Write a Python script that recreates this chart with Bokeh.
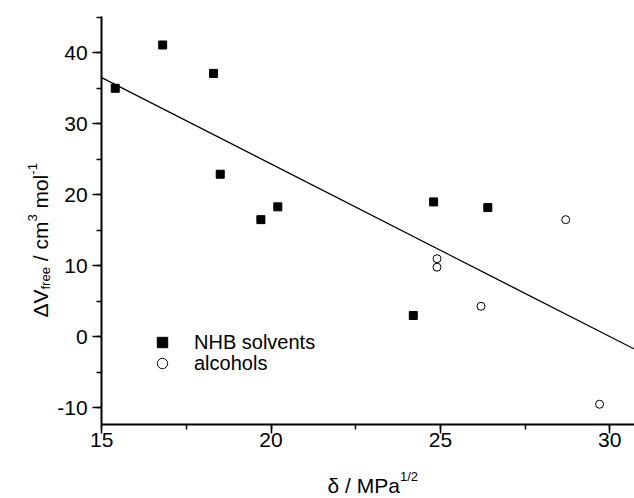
import numpy as np
from bokeh.plotting import figure
from bokeh.models import (Range1d, SingleIntervalTicker, Label, Legend, LegendItem,
                          LinearAxis, CustomJSTickFormatter)
from bokeh.embed import file_html
from bokeh.resources import INLINE

# ---- data ----
nhb_delta = [15.4, 16.8, 18.3, 18.5, 19.7, 20.2, 24.2, 24.8, 26.4]
nhb_dv = [35.0, 41.1, 37.1, 22.9, 16.5, 18.3, 3.0, 19.0, 18.2]
alc_delta = [24.9, 24.9, 26.2, 28.7, 29.7]
alc_dv = [11.0, 9.8, 4.3, 16.5, -9.5]
fit_delta = [15.0, 31.0]
fit_dv = [36.5, -2.4]
series_labels = ["NHB solvents", "alcohols"]

# ---- layout (frame covers whole canvas; axes drawn at fixed locations) ----
W, H = 634, 498
AX_X0 = 15.0          # x where the y axis sits
AX_Y0 = -12.42        # y where the x axis sits
AX_Y1 = 45.15         # top of y axis
X0, X1 = 12.012, 30.731
Y0, Y1 = -22.775, 47.366
FONT = "Liberation Sans"


def dx(px):  # canvas px -> data x
    return X0 + px / W * (X1 - X0)


def dy(py):  # canvas px (from top) -> data y
    return Y1 - py / H * (Y1 - Y0)


p = figure(width=W, height=H, x_range=Range1d(X0, X1), y_range=Range1d(Y0, Y1),
           output_backend="svg", toolbar_location=None,
           x_axis_location=None, y_axis_location=None,
           min_border_left=0, min_border_right=0, min_border_top=0, min_border_bottom=0)
p.outline_line_color = None
p.grid.visible = False
p.background_fill_color = "white"
p.border_fill_color = "white"

fmt = CustomJSTickFormatter(code="return tick.toString();")
xaxis = LinearAxis(fixed_location=AX_Y0, bounds=(AX_X0, X1 + 1),
                   ticker=SingleIntervalTicker(interval=5, num_minor_ticks=2), formatter=fmt)
yaxis = LinearAxis(fixed_location=AX_X0, bounds=(AX_Y0, AX_Y1),
                   ticker=SingleIntervalTicker(interval=10, num_minor_ticks=2), formatter=fmt)
for ax in (xaxis, yaxis):
    ax.axis_line_width = 2
    ax.axis_line_color = "black"
    ax.major_tick_line_width = 1.5
    ax.minor_tick_line_width = 1.5
    ax.major_tick_line_color = "black"
    ax.minor_tick_line_color = "black"
    ax.major_tick_out = 9
    ax.major_tick_in = 0
    ax.minor_tick_out = 5
    ax.minor_tick_in = 0
    ax.major_label_text_font = FONT
    ax.major_label_text_font_size = "21px"
    ax.major_label_text_color = "black"
xaxis.major_label_standoff = -1
yaxis.major_label_standoff = 5
p.add_layout(xaxis, "below")
p.add_layout(yaxis, "left")

p.line(fit_delta, fit_dv, line_color="black", line_width=1.2)
r1 = p.scatter(nhb_delta, nhb_dv, marker="square", size=8, fill_color="black", line_color="black")
r2 = p.scatter(alc_delta, alc_dv, marker="circle", size=8, fill_color="white", line_color="black", line_width=1)

legend_style = dict(glyph_width=26, glyph_height=26, label_standoff=19, padding=0, margin=0,
                    border_line_color=None, background_fill_alpha=0, label_text_font=FONT,
                    label_text_font_size="20px", label_text_color="black", label_height=20)
p.add_layout(Legend(items=[LegendItem(label=series_labels[0], renderers=[r1])],
                    location=(149, 143), **legend_style))
p.add_layout(Legend(items=[LegendItem(label=series_labels[1], renderers=[r2])],
                    location=(149, 122), **legend_style))


# ---- axis titles (with sub/superscripts) ----
def add_label(text, px, py, size, angle=0.0):
    p.add_layout(Label(x=dx(px), y=dy(py), text=text, angle=angle, angle_units="rad",
                       text_font=FONT, text_font_size=f"{size}px", text_color="black",
                       text_align="left", text_baseline="alphabetic"))


SP = 0.278 * 21  # width of a space at 21px

# x title: "δ / MPa^1/2"
add_label("δ / MPa", 327, 485, 21)
add_label("1/2", 327 + 72.4, 476, 13)

# y title: "ΔV_free / cm^3 mol^-1"
bx = 40.0
yy = 317.0
add_label("ΔV", bx, yy, 21, np.pi / 2); yy -= 28.0
add_label("free", bx + 4.5, yy, 13, np.pi / 2); yy -= 22.4 + SP
add_label("/ cm", bx, yy, 21, np.pi / 2); yy -= 45.5 - SP
add_label("3", bx - 8.5, yy, 13, np.pi / 2); yy -= 7.2 + SP
add_label("mol", bx, yy, 21, np.pi / 2); yy -= 39.7 - SP
add_label("-1", bx - 8.5, yy, 13, np.pi / 2)

open("out.html", "w").write(file_html(p, INLINE))
